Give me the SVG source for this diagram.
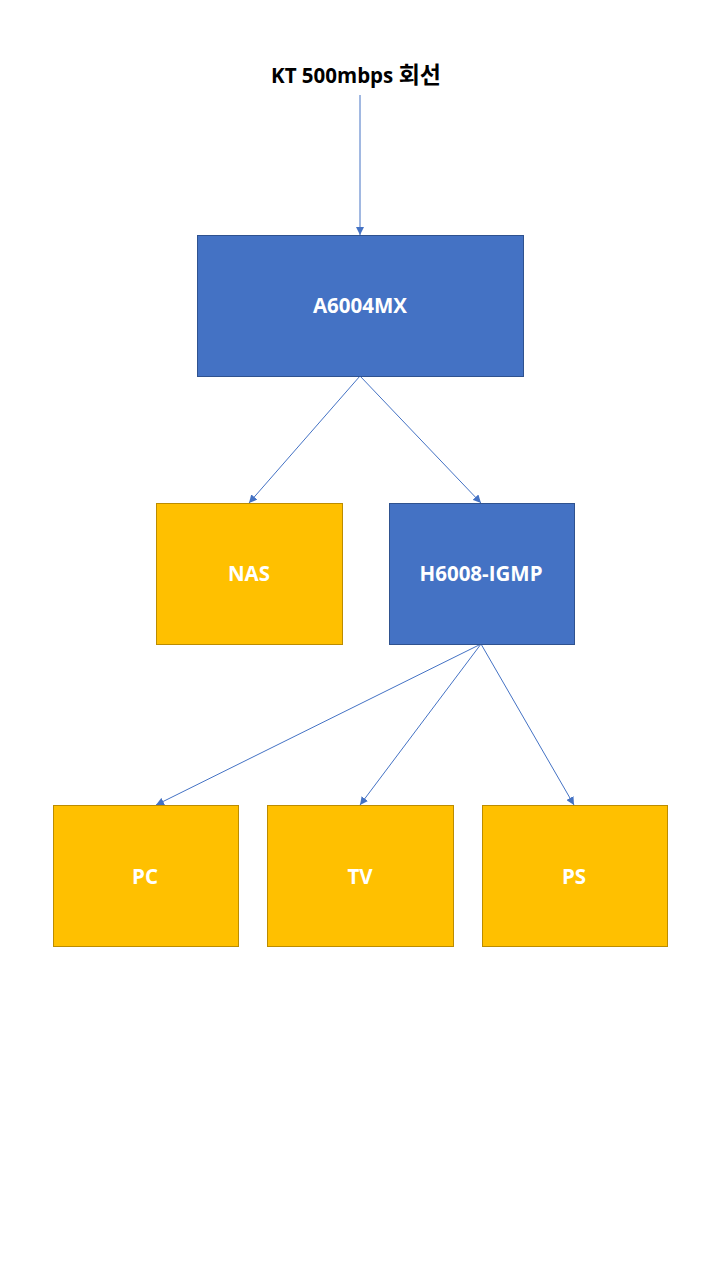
<svg xmlns="http://www.w3.org/2000/svg" width="720" height="1280" viewBox="0 0 720 1280">
<style>
.blue{fill:#4472C4;stroke:#2F528F;stroke-width:1}
.gold{fill:#FFC000;stroke:#BC8C00;stroke-width:1}
.lbl{font-family:"Open Sans","Liberation Sans","Noto Sans CJK KR",sans-serif;font-weight:bold;font-size:20.5px;fill:#FFFFFF;text-anchor:middle}
.title{font-family:"Open Sans","Liberation Sans","Noto Sans CJK KR",sans-serif;font-weight:bold;font-size:20.5px;fill:#000000;text-anchor:middle}
.ko{font-family:"Noto Sans CJK KR",sans-serif;font-size:23px}
.con{stroke:#4472C4;stroke-width:1;fill:none;marker-end:url(#ah)}
</style>
<defs>
<marker id="ah" viewBox="0 0 10 10" refX="10" refY="5" markerWidth="8" markerHeight="8" markerUnits="userSpaceOnUse" orient="auto">
<path d="M0,0 L10,5 L0,10 z" fill="#4472C4"/>
</marker>
</defs>
<rect width="720" height="1280" fill="#FFFFFF"/>
<g id="title"><text class="title" x="356" y="83">KT 500mbps <tspan class="ko">회선</tspan></text></g>
<g id="connectors">
<line class="con" x1="360" y1="95" x2="360" y2="235"/>
<line class="con" x1="360" y1="376" x2="249" y2="503"/>
<line class="con" x1="360" y1="376" x2="481" y2="503"/>
<line class="con" x1="481" y1="644" x2="156" y2="805"/>
<line class="con" x1="481" y1="644" x2="360" y2="805"/>
<line class="con" x1="481" y1="644" x2="574" y2="805"/>
</g>
<g id="A6004MX"><rect class="blue" x="197.5" y="235.5" width="326" height="141"/><text class="lbl" x="360" y="313">A6004MX</text></g>
<g id="NAS"><rect class="gold" x="156.5" y="503.5" width="186" height="141"/><text class="lbl" x="249" y="581">NAS</text></g>
<g id="H6008-IGMP"><rect class="blue" x="389.5" y="503.5" width="185" height="141"/><text class="lbl" x="481" y="581">H6008-IGMP</text></g>
<g id="PC"><rect class="gold" x="53.5" y="805.5" width="185" height="141"/><text class="lbl" x="145" y="884">PC</text></g>
<g id="TV"><rect class="gold" x="267.5" y="805.5" width="186" height="141"/><text class="lbl" x="360" y="884">TV</text></g>
<g id="PS"><rect class="gold" x="482.5" y="805.5" width="185" height="141"/><text class="lbl" x="574" y="884">PS</text></g>
</svg>
